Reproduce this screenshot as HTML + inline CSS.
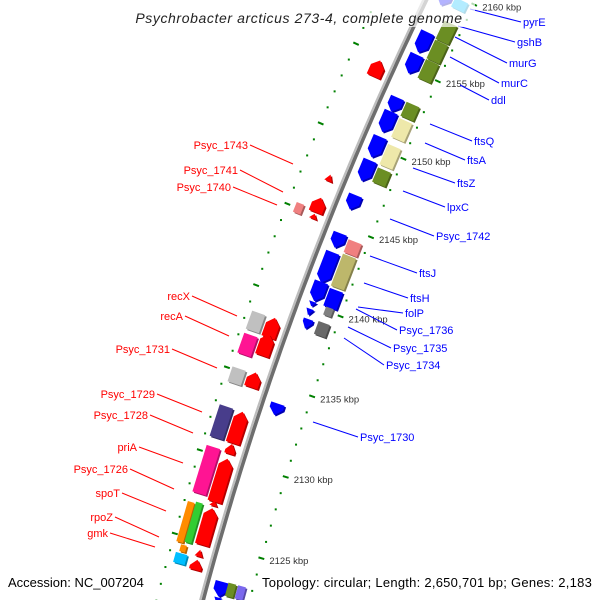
<!DOCTYPE html>
<html><head><meta charset="utf-8"><style>
html,body{margin:0;padding:0;background:#fff;overflow:hidden;width:600px;height:600px;}
svg{display:block;font-family:"Liberation Sans",sans-serif;overflow:hidden;}
</style></head><body>
<svg id="map" width="600" height="600" viewBox="0 0 600 600" xmlns="http://www.w3.org/2000/svg">
<g id="rings"></g>
<g id="backbone"></g>
<g id="genes"></g>
<g id="labels"></g>
<rect x="125" y="0" width="350" height="27" fill="#fff" fill-opacity="0.7"/>
<text x="299" y="23" text-anchor="middle" font-size="14" letter-spacing="0.6" font-style="italic" fill="#222">Psychrobacter arcticus 273-4, complete genome</text>
<text x="8" y="587" font-size="13" fill="#000">Accession: NC_007204</text>
<text x="262" y="587" font-size="13" letter-spacing="0.25" fill="#000">Topology: circular; Length: 2,650,701 bp; Genes: 2,183</text>
</svg>
<script>
// ---- data ----
var geneStart = [2159.1,2156.05,2154.7,2152.25,2150.95,2149.35,2147.85,2146.05,2143.65,2141.45,2140.3,2139.95,2139.4,2138.6,2133.25,2122.15,2121.7,
 2159.3,2157.2,2155.95,2154.7,2152.25,2150.9,2149.15,2148.05,2143.6,2141.5,2140.25,2139.75,2138.5,2122.3,2122.3,
 2153.7,2147.1,2145.15,2144.75,2137.4,2136.3,2134.35,2130.95,2130.3,2127.4,2127.15,2124.8,2124.1,2123.3,
 2144.7,2137.45,2136.0,2134.25,2130.95,2127.6,2124.6,2124.7,2124.1,2123.4];
var geneEnd = [2160.3,2157.35,2155.9,2153.15,2152.25,2150.65,2149.15,2146.95,2144.55,2143.35,2141.5,2140.25,2139.8,2139.2,2133.95,2123.05,2122.1,
 2159.9,2158.4,2157.15,2155.9,2153.15,2152.1,2150.45,2148.95,2144.4,2143.5,2141.35,2140.25,2139.3,2123.1,2123.1,
 2154.7,2147.5,2146.05,2145.05,2138.6,2137.6,2135.25,2132.85,2130.9,2130.0,2127.45,2127.0,2124.5,2123.9,
 2145.3,2138.55,2137.2,2135.15,2132.85,2130.4,2127.0,2127.1,2124.5,2124.0];
var geneRadius = [3386,3386,3386,3386,3386,3386,3386,3386,3386,3386,3386,3387,3387,3385,3386,3387,3387,
 3369,3369,3369,3369,3369,3369,3369,3369,3369,3369,3369,3369,3369,3377,3367,
 3417,3417,3417,3417,3417,3417,3417,3417,3417,3417,3417,3417,3417,3417,
 3434,3434,3434,3434,3434,3434,3439,3431,3434,3434];
var geneHalfWidth = [7,7,7,7,7,7,7,7,7,7,7,4,4,5,7,7,4,
 7,7,7,7,7,7,7,7,7,7,7,4,6,4,4,
 7,4,7,4,7,7,7,7,5,7,4,7,4,6,
 4,7,7,7,7,7,3.5,3.5,3,6];
var geneDir = [-1,-1,-1,-1,-1,-1,-1,-1,-1,-1,-1,-1,-1,-1,-1,-1,-1,
 0,0,0,0,0,0,0,0,0,0,0,0,0,0,0,
 1,1,1,1,1,1,1,1,1,1,1,1,1,1,
 0,0,0,0,0,0,0,0,0,0];
var geneColor = ["#0000ff","#0000ff","#0000ff","#0000ff","#0000ff","#0000ff","#0000ff","#0000ff","#0000ff","#0000ff","#0000ff","#0000ff","#0000ff","#0000ff","#0000ff","#0000ff","#0000ff",
 "#00bfff","#6b8e23","#6b8e23","#6b8e23","#6b8e23","#eee8aa","#eee8aa","#6b8e23","#f08080","#bdb76b","#0000ff","#808080","#696969","#6b8e23","#7b68ee",
 "#ff0000","#ff0000","#ff0000","#ff0000","#ff0000","#ff0000","#ff0000","#ff0000","#ff0000","#ff0000","#ff0000","#ff0000","#ff0000","#ff0000",
 "#f08080","#c0c0c0","#ff1493","#c0c0c0","#483d8b","#ff1493","#ff8c00","#32cd32","#ff8c00","#00bfff"];
var tickKbp = [2125,2130,2135,2140,2145,2150,2155,2160];
var tickLabels = ["2125 kbp","2130 kbp","2135 kbp","2140 kbp","2145 kbp","2150 kbp","2155 kbp","2160 kbp"];
var labelText = ["pyrE","gshB","murG","murC","ddl","ftsQ","ftsA","ftsZ","lpxC","Psyc_1742","ftsJ","ftsH","folP","Psyc_1736","Psyc_1735","Psyc_1734","Psyc_1730",
 "Psyc_1743","Psyc_1741","Psyc_1740","recX","recA","Psyc_1731","Psyc_1729","Psyc_1728","priA","Psyc_1726","spoT","rpoZ","gmk"];

// ---- layout (not data) ----
var CX=3488, CY=1481, A0=195.96, K0=2125, DEG=0.2897;
function ang(k){return (A0+(k-K0)*DEG)*Math.PI/180;}
function pt(k,r){var a=ang(k);return [CX+r*Math.cos(a),CY+r*Math.sin(a)];}
var NS="http://www.w3.org/2000/svg";
function mk(tag,parent){var e=document.createElementNS(NS,tag);parent.appendChild(e);return e;}

// backbone
var bb=document.getElementById('backbone');
[[3403.8,"#bdbdbd",2.2],[3400.8,"#6e6e6e",3.6]].forEach(function(s,i){
  var d="";for(var k=2119;k<=2163;k+=0.5){var p=pt(k,s[0]);d+=(d?"L":"M")+p[0].toFixed(1)+","+p[1].toFixed(1);}
  var path=mk('path',bb);
  
  
  path.setAttribute('d',d);path.setAttribute('fill','none');path.setAttribute('stroke',s[1]);path.setAttribute('stroke-width',s[2]);
});

// tick rings
var rg=document.getElementById('rings');
[3356,3446].forEach(function(r,ri){
  for(var k=2119;k<=2163;k++){
    var major=(k%5===0);
    if(major){
      var a=pt(k,r-3),b=pt(k,r+3);
      var l=mk('line',rg);
      
      
      l.setAttribute('x1',a[0]);l.setAttribute('y1',a[1]);l.setAttribute('x2',b[0]);l.setAttribute('y2',b[1]);
      l.setAttribute('stroke','#008000');l.setAttribute('stroke-width','2');
    } else {
      var p=pt(k,r);var c=mk('rect',rg);
      
      
      c.setAttribute('x',p[0]-1);c.setAttribute('y',p[1]-1);c.setAttribute('width',2);c.setAttribute('height',2);c.setAttribute('fill','#008000');
    }
  }
});
tickKbp.forEach(function(k,i){
  var p=pt(k,3356);var t=mk('text',rg);
  
  
  t.setAttribute('x',p[0]+8);t.setAttribute('y',p[1]+6);t.setAttribute('font-size','9.5');t.setAttribute('fill','#333');
  t.textContent=tickLabels[i];
});

// genes
function shade(hex,f){var n=parseInt(hex.slice(1),16);var r=(n>>16)&255,g=(n>>8)&255,b=n&255;
  return "rgb("+Math.round(r*f)+","+Math.round(g*f)+","+Math.round(b*f)+")";}
var gg=document.getElementById('genes');
for(var i=0;i<geneStart.length;i++){
  var lo=geneStart[i],hi=geneEnd[i],rc=geneRadius[i],w=geneHalfWidth[i],dir=geneDir[i];
  var len=hi-lo,h=Math.min(0.4,len),pts=[];
  if(dir===0){pts=[pt(hi,rc-w),pt(hi,rc+w),pt(lo,rc+w),pt(lo,rc-w)];}
  else if(dir<0){pts=[pt(hi,rc-w),pt(hi,rc+w),pt(lo+h,rc+w),pt(lo,rc),pt(lo+h,rc-w)];}
  else {pts=[pt(lo,rc-w),pt(lo,rc+w),pt(hi-h,rc+w),pt(hi,rc),pt(hi-h,rc-w)];}
  var s=pts.map(function(p){return p[0].toFixed(1)+","+p[1].toFixed(1);}).join(" ");
  var sh=mk('polygon',gg);
  
  
  sh.setAttribute('points',s);sh.setAttribute('fill',shade(geneColor[i],0.7));sh.setAttribute('transform','translate(1.5,1.5)');
  var g=mk('polygon',gg);
  
  
  g.setAttribute('points',s);g.setAttribute('fill',geneColor[i]);
}

// labels (layout positions)
var labelPos=[[523,26,470,9],[517,46,458,26],[509,67,455,37],[501,87,450,57],[491,104,460,85],
 [474,145,430,124],[467,164,425,143],[457,187,413,168],[447,211,403,191],[436,240,390,219],
 [419,277,370,256],[410,302,364,283],[405,317,358,307],[399,334,356,309],[393,352,348,327],[386,369,344,338],[360,441,313,422],
 [248,149,293,164],[238,174,283,192],[231,191,277,205],[190,300,237,316],[183,320,229,336],[170,353,217,368],
 [155,398,202,412],[148,419,193,433],[137,451,183,463],[128,473,174,489],[120,497,166,511],[113,521,159,537],[108,537,155,547]];
var lg=document.getElementById('labels');
labelText.forEach(function(txt,i){
  var q=labelPos[i],right=i<17,col=right?"#0000ff":"#ff0000";
  var l=mk('line',lg);
  
  
  l.setAttribute('x1',q[2]);l.setAttribute('y1',q[3]);
  l.setAttribute('x2',right?q[0]-2:q[0]+2);l.setAttribute('y2',q[1]-4);
  l.setAttribute('stroke',col);l.setAttribute('stroke-width','1');
  var t=mk('text',lg);
  
  
  t.setAttribute('x',q[0]);t.setAttribute('y',q[1]);t.setAttribute('font-size','11');t.setAttribute('fill',col);
  if(!right)t.setAttribute('text-anchor','end');
  t.textContent=txt;
});
</script>
</body></html>
